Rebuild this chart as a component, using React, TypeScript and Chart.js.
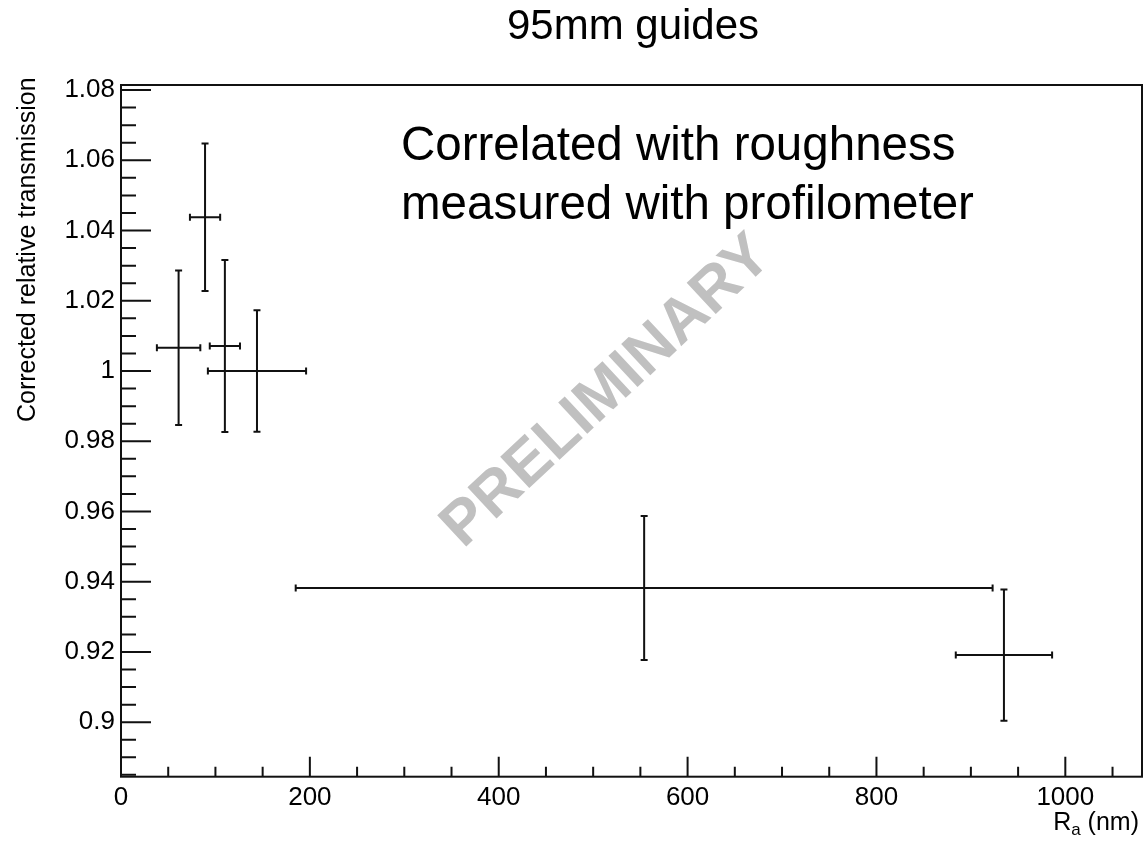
import React, { useEffect, useRef } from "react";
import { Chart, registerables } from "chart.js";

Chart.register(...registerables);

const TITLE = "95mm guides";
const Y_TITLE = "Corrected relative transmission";
const NOTE_LINES = ["Correlated with roughness", "measured with profilometer"];
const WATERMARK = "PRELIMINARY";

const X_VALUES = [61, 89, 110, 144, 554, 935];
const X_ERRORS = [23, 16, 16, 52, 369, 51];
const Y_VALUES = [1.0066, 1.0438, 1.0071, 1.0, 0.9382, 0.9191];
const Y_ERRORS = [0.022, 0.021, 0.0245, 0.0173, 0.0205, 0.0187];

const X_MAJOR_TICKS = [0, 200, 400, 600, 800, 1000];
const X_MINOR_STEP = 50;
const Y_MAJOR_TICKS = [0.9, 0.92, 0.94, 0.96, 0.98, 1.0, 1.02, 1.04, 1.06, 1.08];
const Y_MINOR_STEP = 0.005;

const X_MIN = 0;
const X_MAX = 1081.2;
const Y_MIN = 0.88448;
const Y_MAX = 1.08144;

const FONT = '"Liberation Sans", Arial, Helvetica, sans-serif';
const INK = "#111111";

const fmt = (v: number) => String(Number(v.toFixed(3)));

const rootPlugin = {
  id: "rootStyle",
  beforeDatasetsDraw(chart: any) {
    const ctx = chart.ctx;
    // watermark
    ctx.save();
    ctx.translate(607, 392);
    ctx.rotate((-43 * Math.PI) / 180);
    ctx.fillStyle = "#c0c0c0";
    ctx.font = `bold 62px ${FONT}`;
    ctx.textAlign = "center";
    ctx.textBaseline = "middle";
    ctx.fillText(WATERMARK, 0, 0);
    ctx.restore();
  },
  afterDraw(chart: any) {
    const ctx = chart.ctx;
    const area = chart.chartArea;
    const xs = chart.scales.x;
    const ys = chart.scales.y;

    ctx.save();
    ctx.strokeStyle = INK;
    ctx.lineWidth = 2;

    // error bars
    for (let i = 0; i < X_VALUES.length; i++) {
      const cx = xs.getPixelForValue(X_VALUES[i]);
      const cy = ys.getPixelForValue(Y_VALUES[i]);
      const xl = xs.getPixelForValue(X_VALUES[i] - X_ERRORS[i]);
      const xr = xs.getPixelForValue(X_VALUES[i] + X_ERRORS[i]);
      const yt = ys.getPixelForValue(Y_VALUES[i] + Y_ERRORS[i]);
      const yb = ys.getPixelForValue(Y_VALUES[i] - Y_ERRORS[i]);
      const cap = 3.5;
      ctx.beginPath();
      ctx.moveTo(xl, cy);
      ctx.lineTo(xr, cy);
      ctx.moveTo(cx, yt);
      ctx.lineTo(cx, yb);
      ctx.moveTo(xl, cy - cap);
      ctx.lineTo(xl, cy + cap);
      ctx.moveTo(xr, cy - cap);
      ctx.lineTo(xr, cy + cap);
      ctx.moveTo(cx - cap, yt);
      ctx.lineTo(cx + cap, yt);
      ctx.moveTo(cx - cap, yb);
      ctx.lineTo(cx + cap, yb);
      ctx.stroke();
    }

    // frame
    ctx.lineWidth = 2;
    ctx.strokeRect(area.left, area.top, area.right - area.left, area.bottom - area.top);

    // x ticks
    ctx.beginPath();
    for (let v = X_MIN; v <= X_MAX + 1e-9; v += X_MINOR_STEP) {
      const px = xs.getPixelForValue(v);
      const major = X_MAJOR_TICKS.some((t) => Math.abs(t - v) < 1e-6);
      const len = major ? 20 : 10;
      ctx.moveTo(px, area.bottom);
      ctx.lineTo(px, area.bottom - len);
    }
    // y ticks
    const startY = Math.ceil((Y_MIN - 1e-9) / Y_MINOR_STEP) * Y_MINOR_STEP;
    for (let v = startY; v <= Y_MAX + 1e-9; v += Y_MINOR_STEP) {
      const py = ys.getPixelForValue(v);
      const major = Y_MAJOR_TICKS.some((t) => Math.abs(t - v) < 1e-6);
      const len = major ? 30 : 15;
      ctx.moveTo(area.left, py);
      ctx.lineTo(area.left + len, py);
    }
    ctx.stroke();

    // title
    ctx.fillStyle = "#000";
    ctx.font = `42px ${FONT}`;
    ctx.textAlign = "center";
    ctx.textBaseline = "alphabetic";
    ctx.fillText(TITLE, 633, 39);

    // note
    ctx.font = `47.5px ${FONT}`;
    ctx.textAlign = "left";
    ctx.fillText(NOTE_LINES[0], 401, 160);
    ctx.fillText(NOTE_LINES[1], 401, 219);

    // y title
    ctx.save();
    ctx.translate(35, 422);
    ctx.rotate(-Math.PI / 2);
    ctx.font = `25px ${FONT}`;
    ctx.textAlign = "left";
    ctx.fillText(Y_TITLE, 0, 0);
    ctx.restore();

    // x title: R_a (nm), right aligned
    ctx.font = `25px ${FONT}`;
    const tail = " (nm)";
    const tailW = ctx.measureText(tail).width;
    const right = 1139;
    ctx.textAlign = "left";
    ctx.fillText(tail, right - tailW, 830);
    ctx.font = `17px ${FONT}`;
    const aW = ctx.measureText("a").width;
    ctx.fillText("a", right - tailW - aW, 835);
    ctx.font = `25px ${FONT}`;
    const rW = ctx.measureText("R").width;
    ctx.fillText("R", right - tailW - aW - rW, 830);

    ctx.restore();
  },
};

export default function App() {
  const ref = useRef<HTMLCanvasElement | null>(null);

  useEffect(() => {
    document.body.style.margin = "0";
    const canvas = ref.current;
    if (!canvas) return;
    const points = X_VALUES.map((x, i) => ({ x, y: Y_VALUES[i] }));
    const chart = new Chart(canvas, {
      type: "scatter",
      data: {
        datasets: [
          {
            data: points,
            pointRadius: 0,
            pointHoverRadius: 0,
            showLine: false,
          },
        ],
      },
      options: {
        responsive: false,
        animation: false,
        devicePixelRatio: 1,
        layout: { padding: { top: 85, right: 3, left: 0, bottom: 0 } },
        plugins: {
          legend: { display: false },
          title: { display: false },
          tooltip: { enabled: false },
        },
        scales: {
          x: {
            type: "linear",
            min: X_MIN,
            max: X_MAX,
            grid: { display: false, drawTicks: false, tickLength: 0 },
            border: { display: false },
            ticks: {
              autoSkip: false,
              maxRotation: 0,
              padding: 6,
              color: "#000",
              font: { family: FONT, size: 26 },
              callback: (v: any) => fmt(Number(v)),
            },
            afterBuildTicks: (scale: any) => {
              scale.ticks = X_MAJOR_TICKS.map((value) => ({ value }));
            },
            afterFit: (scale: any) => {
              scale.height = 65.3;
            },
          },
          y: {
            type: "linear",
            min: Y_MIN,
            max: Y_MAX,
            grid: { display: false, drawTicks: false, tickLength: 0 },
            border: { display: false },
            ticks: {
              autoSkip: false,
              padding: 6,
              color: "#000",
              font: { family: FONT, size: 26 },
              callback: (v: any) => fmt(Number(v)),
            },
            afterBuildTicks: (scale: any) => {
              scale.ticks = Y_MAJOR_TICKS.map((value) => ({ value }));
            },
            afterFit: (scale: any) => {
              scale.width = 121;
            },
          },
        },
      },
      plugins: [rootPlugin],
    });
    return () => chart.destroy();
  }, []);

  return (
    <canvas
      ref={ref}
      width={1145}
      height={842}
      style={{ display: "block", width: 1145, height: 842 }}
    />
  );
}
